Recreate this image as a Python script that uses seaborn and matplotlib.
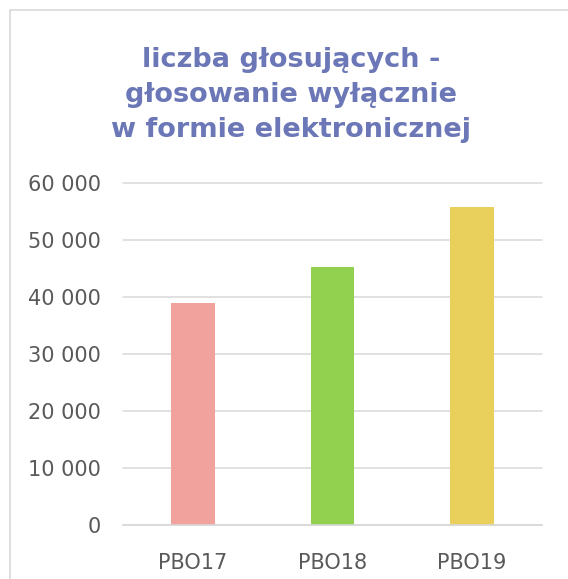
import matplotlib
matplotlib.use("Agg")
import matplotlib.pyplot as plt
import seaborn as sns
import pandas as pd
from matplotlib.lines import Line2D
from matplotlib.ticker import FuncFormatter

categories = ["PBO17", "PBO18", "PBO19"]
values = [38950, 45250, 55850]
colors = ["#F1A29D", "#92D050", "#E9D05D"]
yticks = [0, 10000, 20000, 30000, 40000, 50000, 60000]
title = "liczba głosujących -\ngłosowanie wyłącznie\nw formie elektronicznej"

sns.set_theme(style="white")
plt.rcParams["font.family"] = ["DejaVu Sans"]

df = pd.DataFrame({"cat": categories, "val": values})

fig = plt.figure(figsize=(5.68, 5.79), dpi=100)
ax = fig.add_axes([123 / 568, 1 - 525 / 579, (542 - 123) / 568, (525 - 183) / 579])

sns.barplot(data=df, x="cat", y="val", hue="cat", palette=colors, width=0.315,
            legend=False, ax=ax, saturation=1, linewidth=0)

ax.set_ylim(0, 60000)
ax.set_xlim(-0.5, 2.5)
ax.set_yticks(yticks)
ax.yaxis.set_major_formatter(FuncFormatter(lambda v, p: f"{int(v):,}".replace(",", " ")))
ax.grid(axis="y", color="#D9D9D9", linewidth=1.1)
for gl in ax.get_ygridlines():
    gl.set_clip_on(False)
ax.set_axisbelow(True)
for s in ["top", "right", "left"]:
    ax.spines[s].set_visible(False)
ax.spines["bottom"].set_color("#D9D9D9")
ax.spines["bottom"].set_linewidth(1.1)
ax.set_xlabel("")
ax.set_ylabel("")
ax.tick_params(axis="both", length=0, labelsize=15, labelcolor="#595959")
ax.tick_params(axis="y", pad=16)
ax.tick_params(axis="x", pad=20)

fig.text(291 / 568, 1 - 95 / 579, title, ha="center", va="center", fontsize=19.5,
         fontweight="bold", color="#6B77B6", linespacing=1.45)

# chart frame
fig.add_artist(Line2D([10 / 568, 10 / 568], [0, 1 - 10 / 579], transform=fig.transFigure,
                      color="#D9D9D9", linewidth=1.2))
fig.add_artist(Line2D([10 / 568, 1], [1 - 10 / 579, 1 - 10 / 579], transform=fig.transFigure,
                      color="#D9D9D9", linewidth=1.2))

fig.savefig("out.png", dpi=100)
